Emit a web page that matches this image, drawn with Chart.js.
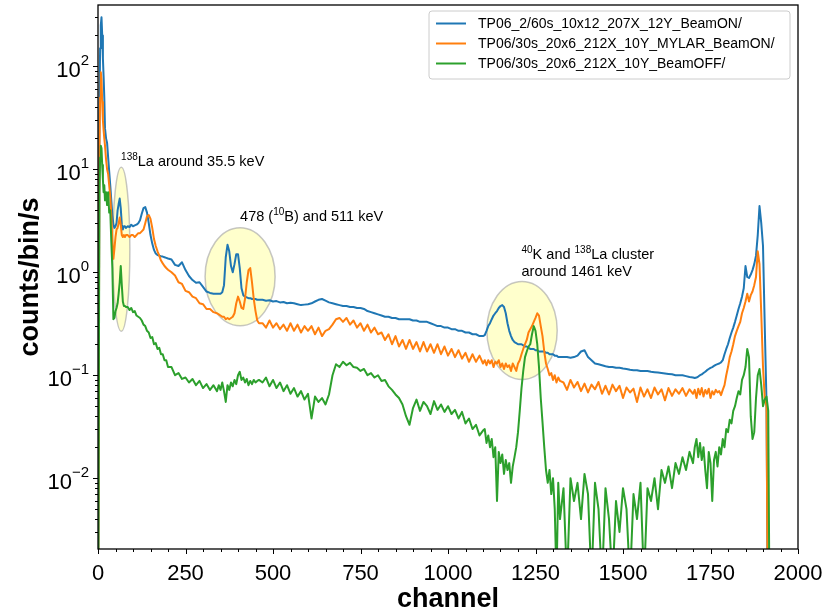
<!DOCTYPE html>
<html>
<head>
<meta charset="utf-8">
<script src="https://cdn.jsdelivr.net/npm/chart.js@4/dist/chart.umd.min.js"></script>
<style>
html,body{margin:0;padding:0;background:#fff;}
#wrap{width:832px;height:614px;}
</style>
</head>
<body>
<div id="wrap"><canvas id="c" width="832" height="614"></canvas></div>
<script>
// ---------------- data ----------------
const channels = [
  0,2,4,6,8,10,12,14,16,18,20,
  23,26,29,32,35,38,41,44,47,50,53,56,59,62,65,68,71,74,77,80,
  85,90,95,100,105,110,115,120,125,130,135,140,145,150,155,160,165,170,175,180,185,190,195,200,
  210,220,230,240,250,260,270,280,290,300,310,320,330,340,
  345,350,355,360,365,370,375,380,385,390,395,400,405,410,415,420,425,430,435,440,445,450,455,460,
  470,480,490,500,510,520,530,540,550,560,
  570,580,590,600,610,620,630,640,650,660,
  670,680,690,700,710,720,730,740,750,760,
  770,780,790,800,810,820,830,840,850,860,
  870,880,890,900,910,920,930,940,950,960,
  970,980,990,1000,1010,1020,1030,1040,1050,1060,
  1070,1080,1090,1100,
  1105,1110,1115,1120,1125,1130,1135,1140,1145,1150,
  1155,1160,1165,1170,1175,1180,1185,1190,1195,1200,
  1205,1210,1215,1220,1225,1230,1235,1240,1245,1250,
  1255,1260,1265,1270,1275,1280,1285,1290,1295,1300,
  1305,1310,1315,1320,
  1330,1340,1350,1360,1370,1380,1390,1400,1410,1420,
  1430,1440,1450,1460,1470,1480,1490,1500,1510,1520,
  1530,1540,1550,1560,1570,1580,1590,1600,1610,1620,
  1630,1640,1650,1660,1670,1680,1690,1700,
  1705,1710,1715,1720,1725,1730,1735,1740,1745,1750,
  1755,1760,1765,1770,1775,1780,1785,1790,1795,1800,
  1805,1810,1815,1820,1825,1830,1835,1840,1845,1850,
  1855,1860,1865,1870,1875,1880,1885,1890,1895,1900,
  1905,1910,1915,1920
];

const beamOnCounts = [
  0.0001,0.0001,30,150,250,300,200,120,80,50,25,
  20,18,13,9.5,7,5,3.6,2.9,2.7,2.8,3.0,4.0,4.6,5.2,4.2,2.9,2.6,2.8,2.8,2.7,
  2.8,2.75,2.9,2.8,2.85,2.9,3.0,3.2,3.7,4.2,4.3,3.8,3.0,2.3,1.9,1.65,1.52,1.47,1.45,1.43,1.42,1.4,1.38,1.36,
  1.33,1.18,1.15,1.25,1.05,0.92,0.84,0.79,0.8,0.72,0.65,0.63,0.62,0.62,
  0.62,0.62,0.64,0.75,1.4,1.85,1.6,1.15,1.0,1.2,1.5,1.5,1.1,0.7,0.6,0.58,0.57,0.56,0.56,0.55,0.55,0.55,0.54,0.54,
  0.54,0.53,0.535,0.52,0.525,0.51,0.515,0.5,0.505,0.5,
  0.49,0.48,0.485,0.49,0.5,0.52,0.54,0.55,0.53,0.51,
  0.5,0.49,0.48,0.47,0.47,0.46,0.46,0.45,0.45,0.44,
  0.42,0.41,0.4,0.39,0.38,0.37,0.37,0.36,0.36,0.35,
  0.35,0.35,0.35,0.34,0.34,0.33,0.33,0.33,0.32,0.31,
  0.3,0.3,0.29,0.29,0.28,0.28,0.27,0.27,0.26,0.26,
  0.25,0.25,0.24,0.24,
  0.245,0.27,0.3,0.32,0.35,0.38,0.4,0.42,0.45,0.47,
  0.48,0.46,0.4,0.32,0.27,0.24,0.22,0.21,0.205,0.2,
  0.2,0.2,0.195,0.19,0.19,0.185,0.18,0.18,0.18,0.175,
  0.175,0.17,0.17,0.17,0.17,0.165,0.165,0.16,0.16,0.16,
  0.155,0.155,0.15,0.15,
  0.15,0.15,0.148,0.15,0.155,0.17,0.175,0.15,0.14,0.13,
  0.128,0.125,0.122,0.12,0.12,0.118,0.118,0.116,0.115,0.113,
  0.112,0.112,0.11,0.11,0.11,0.108,0.107,0.106,0.105,0.104,
  0.103,0.102,0.1,0.1,0.1,0.098,0.096,0.095,
  0.094,0.095,0.097,0.1,0.102,0.105,0.108,0.112,0.115,0.118,
  0.12,0.123,0.126,0.128,0.13,0.133,0.14,0.16,0.18,0.2,
  0.23,0.26,0.29,0.33,0.38,0.44,0.5,0.58,0.7,1.15,
  0.9,0.88,0.95,1.05,1.2,1.45,2.3,4.4,3.0,1.8,
  0.3,0.055,0.0001,0.0001
];

const mylarCounts = [
  0.0001,0.0001,15,50,88,75,45,30,24,20,17,
  12.5,10,9,7,5.5,3.6,2.0,1.35,1.7,2.2,2.6,2.7,3.0,3.4,2.9,2.3,2.2,2.3,2.2,2.3,
  2.3,2.2,2.3,2.3,2.2,2.3,2.4,2.4,2.5,2.6,3.0,3.5,3.6,3.3,2.7,2.1,1.8,1.6,1.45,1.3,1.22,1.15,1.1,1.06,
  1.0,0.93,0.8,0.77,0.66,0.64,0.58,0.56,0.5,0.49,0.44,0.44,0.41,0.4,
  0.39,0.38,0.37,0.37,0.35,0.36,0.35,0.36,0.37,0.4,0.5,0.58,0.52,0.45,0.44,0.55,0.8,1.05,1.1,0.8,0.55,0.42,0.34,0.32,
  0.32,0.29,0.34,0.29,0.32,0.28,0.31,0.27,0.32,0.27,
  0.31,0.26,0.3,0.27,0.3,0.25,0.29,0.24,0.27,0.28,
  0.31,0.35,0.36,0.33,0.36,0.31,0.34,0.29,0.32,0.27,
  0.31,0.26,0.29,0.25,0.26,0.22,0.25,0.2,0.24,0.19,
  0.22,0.18,0.22,0.18,0.21,0.17,0.21,0.17,0.2,0.165,
  0.2,0.16,0.19,0.155,0.18,0.15,0.175,0.145,0.165,0.135,
  0.16,0.135,0.155,0.13,
  0.14,0.125,0.14,0.13,0.14,0.12,0.135,0.13,0.14,0.12,
  0.13,0.115,0.13,0.12,0.125,0.11,0.13,0.12,0.11,0.13,
  0.14,0.16,0.18,0.2,0.22,0.26,0.28,0.3,0.33,0.36,
  0.4,0.38,0.3,0.24,0.17,0.13,0.115,0.1,0.105,0.09,
  0.1,0.085,0.095,0.088,
  0.085,0.072,0.09,0.076,0.086,0.07,0.083,0.068,0.081,0.073,
  0.086,0.066,0.079,0.065,0.081,0.07,0.079,0.06,0.076,0.068,
  0.074,0.055,0.076,0.062,0.073,0.06,0.076,0.065,0.073,0.057,
  0.075,0.063,0.073,0.066,0.075,0.063,0.073,0.066,
  0.072,0.06,0.074,0.065,0.075,0.062,0.072,0.066,0.074,0.06,
  0.07,0.065,0.072,0.068,0.07,0.064,0.072,0.08,0.1,0.12,
  0.15,0.17,0.2,0.24,0.27,0.3,0.33,0.4,0.45,0.52,
  0.62,0.52,0.6,0.65,0.75,0.9,1.6,1.2,0.4,0.12,
  0.06,0.05,0.0001,0.0001
];

const beamOffCounts = [
  0.0001,0.0001,6,13,17,16,11,8,6,7,5,
  6,4.5,6,3.8,4,2.0,1.1,0.35,0.36,0.42,0.45,0.5,0.62,0.8,1.15,0.75,0.52,0.47,0.47,0.46,
  0.46,0.43,0.45,0.41,0.42,0.38,0.37,0.36,0.34,0.31,0.3,0.27,0.26,0.23,0.235,0.2,0.205,0.18,0.185,0.16,0.16,0.14,0.14,0.12,
  0.12,0.1,0.105,0.092,0.095,0.085,0.092,0.08,0.088,0.075,0.082,0.072,0.08,0.07,
  0.08,0.072,0.085,0.07,0.055,0.08,0.072,0.085,0.078,0.09,0.082,0.1,0.108,0.09,0.095,0.085,0.092,0.08,0.088,0.082,0.09,0.085,0.088,0.09,
  0.085,0.095,0.078,0.09,0.075,0.085,0.07,0.08,0.066,0.075,
  0.062,0.07,0.058,0.066,0.038,0.062,0.055,0.06,0.052,0.065,
  0.1,0.128,0.12,0.135,0.125,0.132,0.12,0.118,0.11,0.115,
  0.1,0.105,0.095,0.1,0.088,0.09,0.078,0.072,0.065,0.06,
  0.052,0.04,0.033,0.048,0.058,0.045,0.055,0.05,0.042,0.056,
  0.046,0.052,0.044,0.05,0.042,0.046,0.038,0.044,0.034,0.038,
  0.03,0.033,0.026,0.029,
  0.03,0.022,0.026,0.02,0.024,0.016,0.02,0.006,0.018,0.014,
  0.017,0.011,0.015,0.012,0.014,0.009,0.013,0.016,0.02,0.028,
  0.045,0.075,0.11,0.15,0.17,0.19,0.2,0.25,0.3,0.27,
  0.2,0.12,0.06,0.035,0.02,0.012,0.009,0.012,0.007,0.01,
  0.005,0.001,0.009,0.004,
  0.008,0.001,0.01,0.006,0.009,0.004,0.011,0.007,0.001,0.009,
  0.005,0.001,0.008,0.004,0.001,0.006,0.003,0.008,0.005,0.001,
  0.007,0.004,0.009,0.001,0.008,0.006,0.01,0.005,0.012,0.009,
  0.013,0.008,0.014,0.011,0.016,0.012,0.018,0.014,
  0.02,0.024,0.016,0.022,0.015,0.02,0.012,0.008,0.018,0.014,
  0.006,0.015,0.018,0.013,0.02,0.017,0.024,0.02,0.03,0.028,
  0.037,0.034,0.045,0.05,0.06,0.07,0.065,0.09,0.1,0.12,
  0.18,0.15,0.04,0.024,0.028,0.06,0.1,0.115,0.08,0.05,
  0.058,0.062,0.045,0.0001
];

const seriesNames = [
  "TP06_2/60s_10x12_207X_12Y_BeamON/",
  "TP06/30s_20x6_212X_10Y_MYLAR_BeamON/",
  "TP06/30s_20x6_212X_10Y_BeamOFF/"
];
const xTickValues = [0, 250, 500, 750, 1000, 1250, 1500, 1750, 2000];
const yDecades = [-2, -1, 0, 1, 2];
const xTitle = "channel";
const yTitle = "counts/bin/s";

// --------------- styling / annotation layout -----------------
const COLORS = ["#1f77b4", "#ff7f0e", "#2ca02c"];
const FONT = "'Liberation Sans', Arial, Helvetica, sans-serif";
const Y_MIN = 0.00205, Y_MAX = 395;

// ellipses given in data space (channel range, count range)
const ellipses = [
  {ch0: 42, ch1: 91, top: 10.5, bottom: 0.267},
  {ch0: 306, ch1: 506, top: 2.71, bottom: 0.303},
  {ch0: 1111, ch1: 1312, top: 0.815, bottom: 0.0909}
];
// annotation texts: runs of [text, isSuperscript], anchored in data space
const notes = [
  {ch: 66, val: 10.8, runs: [["138", true], ["La around 35.5 keV", false]]},
  {ch: 406, val: 3.17, runs: [["478 (", false], ["10", true], ["B) and 511 keV", false]]},
  {ch: 1210, val: 1.35, runs: [["40", true], ["K and ", false], ["138", true], ["La cluster", false]]},
  {ch: 1210, val: 0.925, runs: [["around 1461 keV", false]]}
];

function toPoints(vals) {
  return vals.map((v, i) => ({x: channels[i], y: v}));
}

const decor = {
  id: 'decor',
  beforeDatasetsDraw(chart) {
    const {ctx, scales: {x, y}, chartArea: a} = chart;
    ctx.save();
    ctx.beginPath();
    ctx.rect(a.left, a.top, a.right - a.left, a.bottom - a.top);
    ctx.clip();
    ellipses.forEach(e => {
      const x0 = x.getPixelForValue(e.ch0), x1 = x.getPixelForValue(e.ch1);
      const yt = y.getPixelForValue(e.top), yb = y.getPixelForValue(e.bottom);
      ctx.beginPath();
      ctx.ellipse((x0 + x1) / 2, (yt + yb) / 2, (x1 - x0) / 2, (yb - yt) / 2, 0, 0, Math.PI * 2);
      ctx.fillStyle = "rgba(255,255,0,0.2)";
      ctx.fill();
      ctx.lineWidth = 1.5;
      ctx.strokeStyle = "rgba(160,160,160,0.6)";
      ctx.stroke();
    });
    ctx.restore();
  },
  afterDraw(chart) {
    const {ctx, scales: {x, y}, chartArea: a} = chart;
    ctx.save();
    // frame
    ctx.strokeStyle = "#000";
    ctx.lineWidth = 1.3;
    ctx.strokeRect(a.left, a.top, a.right - a.left, a.bottom - a.top);
    // x ticks
    ctx.lineWidth = 1;
    for (let v = 0; v <= 2000; v += 50) {
      const px = Math.round(x.getPixelForValue(v)) + 0.5;
      const len = (v % 250 === 0) ? 5 : 3;
      ctx.beginPath();
      ctx.moveTo(px, a.bottom);
      ctx.lineTo(px, a.bottom + len);
      ctx.stroke();
    }
    // y ticks
    for (let d = -3; d <= 2; d++) {
      for (let m = 1; m <= 9; m++) {
        const v = m * Math.pow(10, d);
        if (v < Y_MIN || v > Y_MAX) continue;
        const py = Math.round(y.getPixelForValue(v)) + 0.5;
        const len = m === 1 ? 5 : 3;
        ctx.beginPath();
        ctx.moveTo(a.left - len, py);
        ctx.lineTo(a.left, py);
        ctx.stroke();
      }
    }
    // y tick labels 10^n
    ctx.fillStyle = "#000";
    ctx.textBaseline = "alphabetic";
    yDecades.forEach(e => {
      const py = y.getPixelForValue(Math.pow(10, e));
      const expStr = e < 0 ? "\u2212" + Math.abs(e) : String(e);
      ctx.font = "15px " + FONT;
      const we = ctx.measureText(expStr).width;
      ctx.font = "22px " + FONT;
      const wb = ctx.measureText("10").width;
      const right = a.left - 9;
      ctx.textAlign = "left";
      ctx.fillText("10", right - we - wb, py + 11);
      ctx.font = "15px " + FONT;
      ctx.fillText(expStr, right - we, py - 1);
    });
    // axis titles
    ctx.font = "bold 27px " + FONT;
    ctx.textAlign = "center";
    ctx.fillText(xTitle, (a.left + a.right) / 2, 607);
    ctx.save();
    ctx.translate(38, (a.top + a.bottom) / 2);
    ctx.rotate(-Math.PI / 2);
    ctx.fillText(yTitle, 0, 0);
    ctx.restore();
    // annotation texts
    ctx.textAlign = "left";
    notes.forEach(n => {
      let px = x.getPixelForValue(n.ch);
      const py = y.getPixelForValue(n.val);
      n.runs.forEach(([t, sup]) => {
        ctx.font = (sup ? "10px " : "14.5px ") + FONT;
        ctx.fillText(t, px, sup ? py - 6 : py);
        px += ctx.measureText(t).width;
      });
    });
    // legend
    const lx = 429, ly = 11, lw = 361, lh = 68, r = 3;
    ctx.beginPath();
    ctx.moveTo(lx + r, ly);
    ctx.arcTo(lx + lw, ly, lx + lw, ly + lh, r);
    ctx.arcTo(lx + lw, ly + lh, lx, ly + lh, r);
    ctx.arcTo(lx, ly + lh, lx, ly, r);
    ctx.arcTo(lx, ly, lx + lw, ly, r);
    ctx.closePath();
    ctx.fillStyle = "rgba(255,255,255,0.8)";
    ctx.fill();
    ctx.strokeStyle = "#cccccc";
    ctx.lineWidth = 1;
    ctx.stroke();
    ctx.font = "14px " + FONT;
    ctx.textBaseline = "middle";
    seriesNames.forEach((name, i) => {
      const cy = 23.5 + i * 20;
      ctx.strokeStyle = COLORS[i];
      ctx.lineWidth = 2;
      ctx.beginPath();
      ctx.moveTo(436, cy);
      ctx.lineTo(466, cy);
      ctx.stroke();
      ctx.fillStyle = "#000";
      ctx.fillText(name, 478, cy + 1);
    });
    ctx.restore();
  }
};

const datasets = [beamOnCounts, mylarCounts, beamOffCounts].map((vals, i) => ({
  label: seriesNames[i],
  data: toPoints(vals),
  borderColor: COLORS[i],
  backgroundColor: COLORS[i],
  borderWidth: 2,
  pointRadius: 0,
  tension: 0,
  fill: false,
  order: 3 - i,
  borderJoinStyle: 'round'
}));

new Chart(document.getElementById('c'), {
  type: 'line',
  data: {datasets},
  options: {
    responsive: false,
    animation: false,
    devicePixelRatio: 1,
    events: [],
    layout: {padding: {top: 5, right: 34, left: 0, bottom: 0}},
    plugins: {legend: {display: false}, tooltip: {enabled: false}},
    scales: {
      x: {
        type: 'linear',
        min: 0, max: 2000,
        grid: {display: false},
        border: {display: false},
        afterBuildTicks: s => { s.ticks = xTickValues.map(v => ({value: v})); },
        afterFit: s => { s.height = 65; },
        ticks: {
          color: '#000',
          font: {family: FONT, size: 22},
          padding: 4,
          maxRotation: 0,
          autoSkip: false,
          callback: v => String(v)
        }
      },
      y: {
        type: 'logarithmic',
        min: Y_MIN, max: Y_MAX,
        grid: {display: false},
        border: {display: false},
        ticks: {display: false},
        afterFit: s => { s.width = 98; }
      }
    }
  },
  plugins: [decor]
});
</script>
